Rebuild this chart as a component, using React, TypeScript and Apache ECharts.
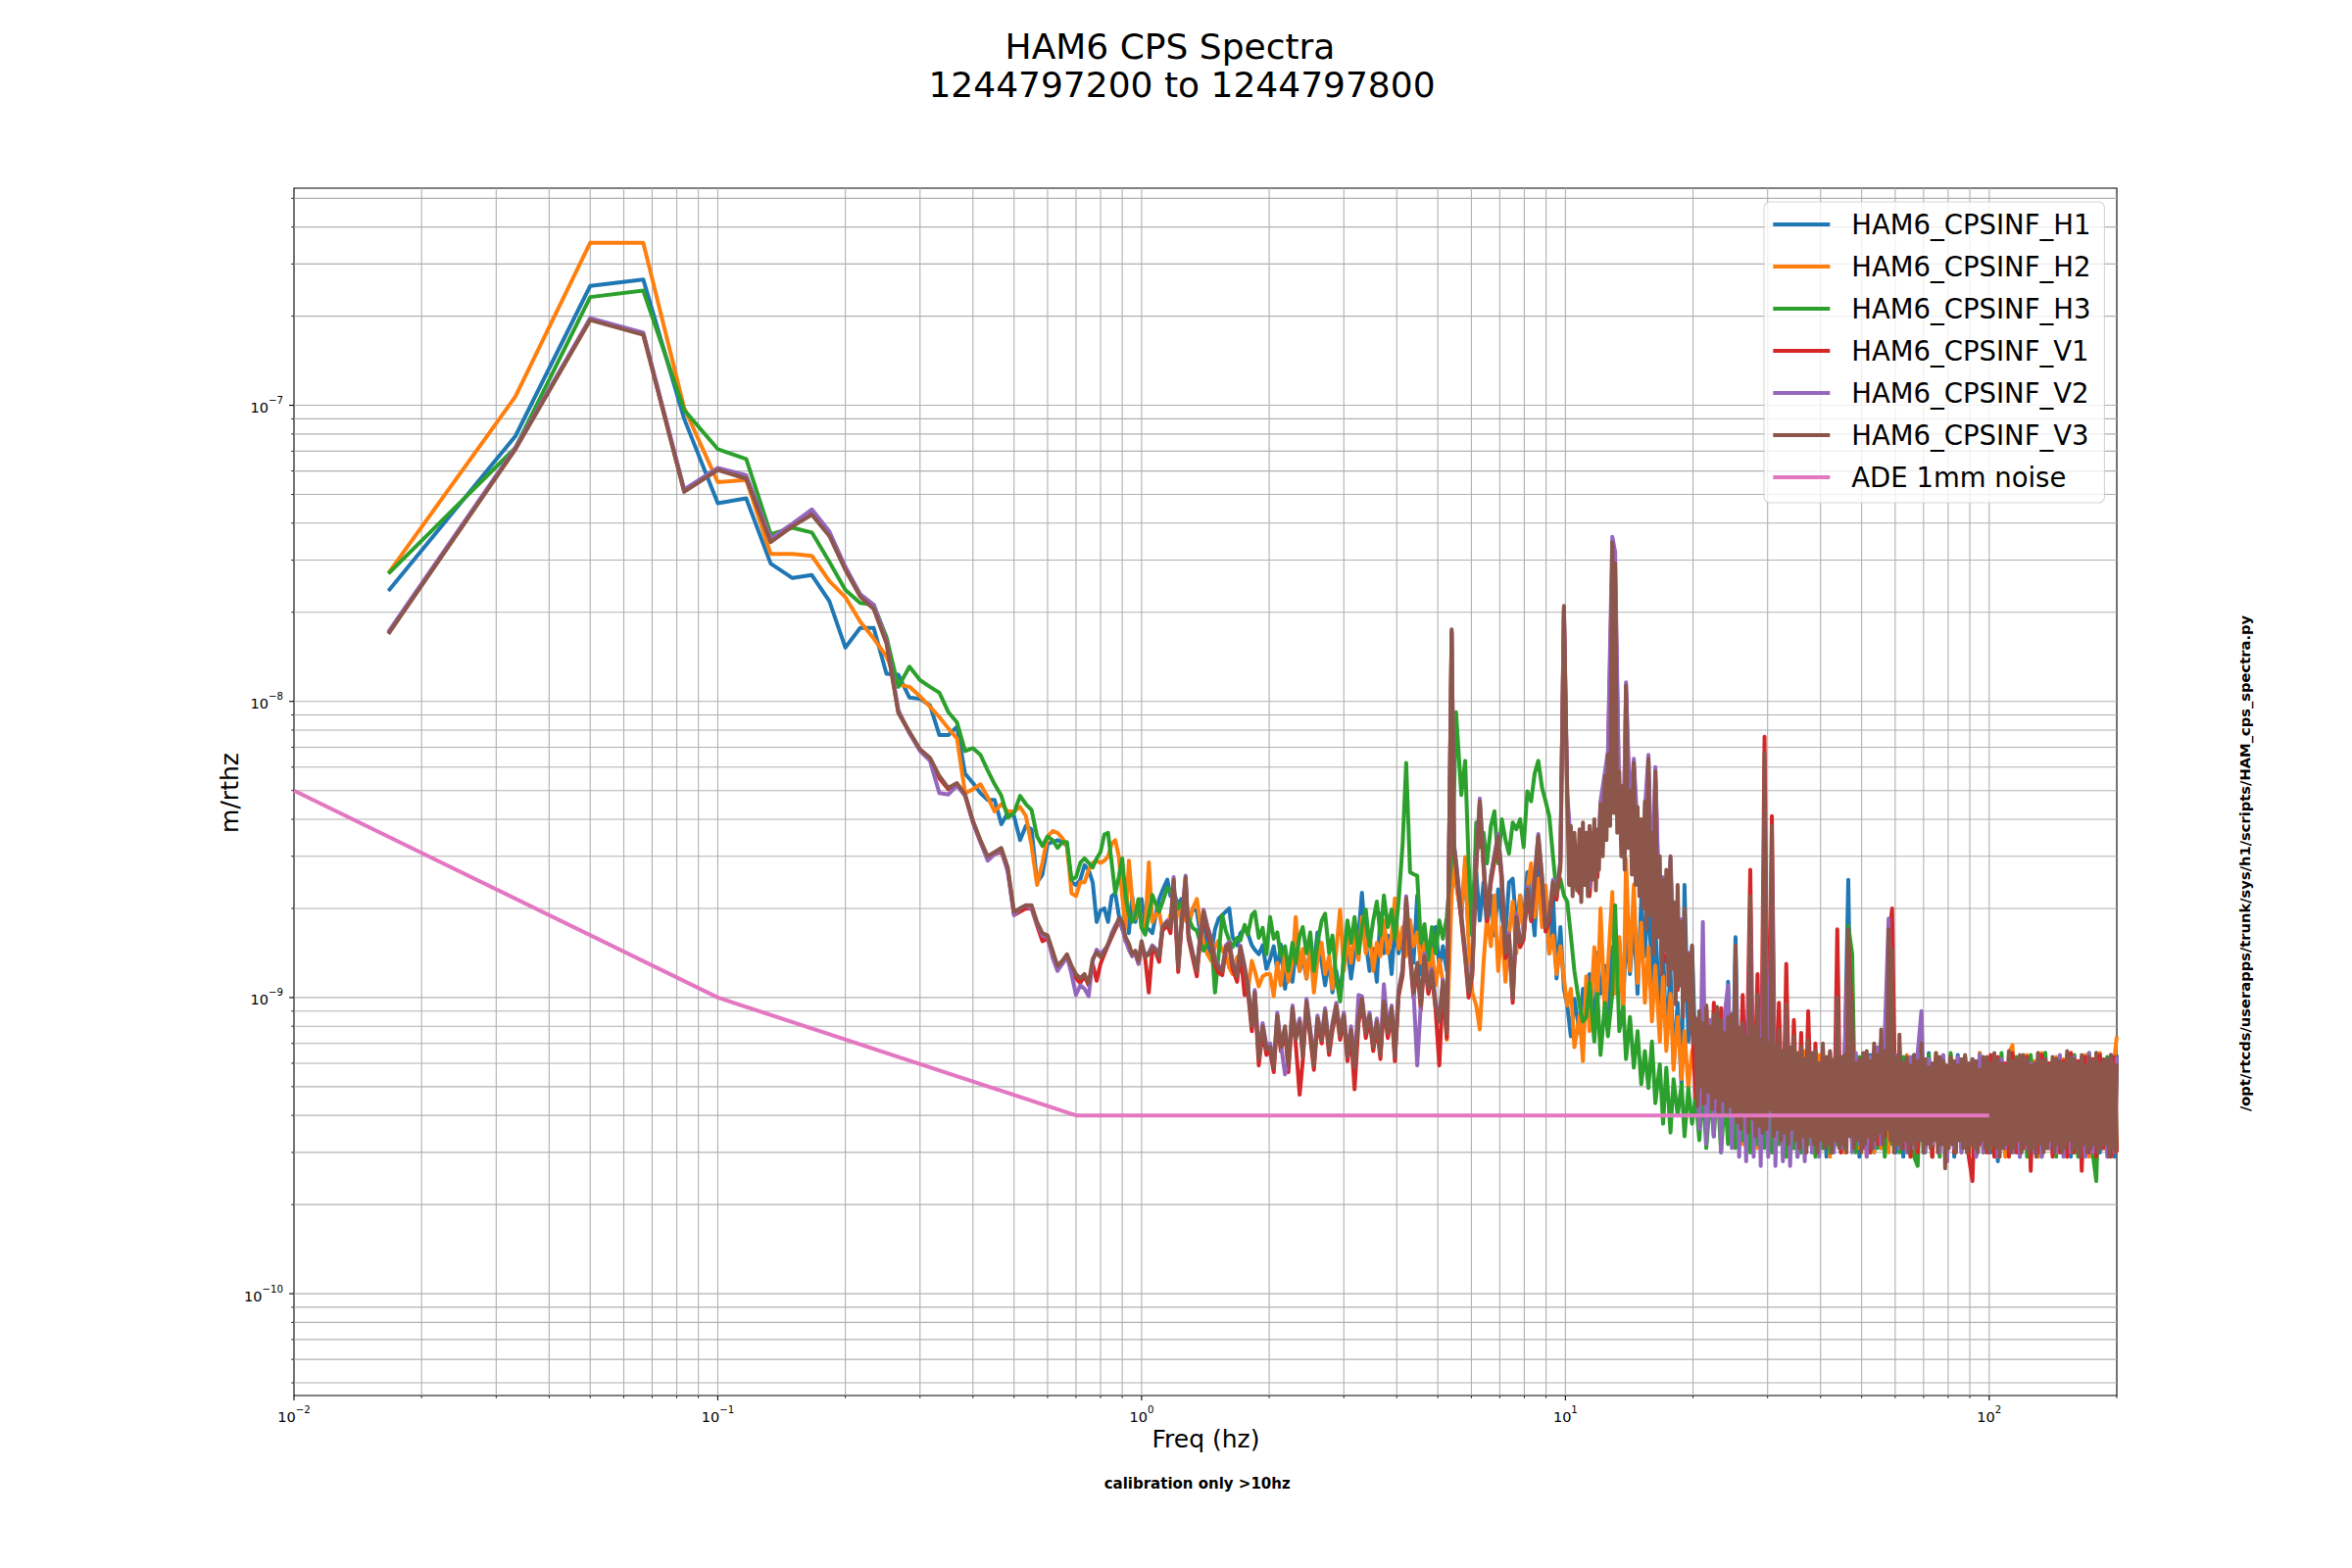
import React, { useEffect, useRef } from 'react';
import * as echarts from 'echarts';

const FONT = 'DejaVu Sans';

const SERIES_NAMES = ['HAM6_CPSINF_H1', 'HAM6_CPSINF_H2', 'HAM6_CPSINF_H3', 'HAM6_CPSINF_V1', 'HAM6_CPSINF_V2', 'HAM6_CPSINF_V3', 'ADE 1mm noise'];
const COLORS = ['#1f77b4', '#ff7f0e', '#2ca02c', '#d62728', '#9467bd', '#8c564b', '#e377c2'];

// Frequencies (Hz)
const F_LOW = [0.0167, 0.0333, 0.05, 0.0667, 0.0833, 0.1, 0.1167, 0.1333, 0.15, 0.1667, 0.1833, 0.2, 0.2167, 0.2333, 0.25,
  0.2667, 0.2833, 0.3, 0.3167, 0.3333, 0.35, 0.3667, 0.3833, 0.4, 0.4167, 0.4333, 0.45, 0.4667, 0.4833, 0.5,
  0.5167, 0.5333, 0.55, 0.5667, 0.5833, 0.6, 0.6167, 0.6333, 0.65, 0.6667, 0.6833, 0.7, 0.7167, 0.7333, 0.75,
  0.7667, 0.7833, 0.8, 0.8167, 0.8333, 0.85, 0.8667, 0.8833, 0.9, 0.9167, 0.9333, 0.95, 0.9667, 0.9833, 1.0];
const F_MID = [1.02, 1.04, 1.06, 1.08, 1.10, 1.12, 1.15, 1.17, 1.19, 1.22,
  1.24, 1.27, 1.29, 1.32, 1.35, 1.37, 1.40, 1.43, 1.46, 1.49,
  1.52, 1.55, 1.58, 1.61, 1.64, 1.68, 1.71, 1.75, 1.78, 1.82,
  1.85, 1.89, 1.93, 1.97, 2.01, 2.05, 2.09, 2.13, 2.18, 2.22,
  2.27, 2.31, 2.36, 2.40, 2.45, 2.50, 2.55, 2.60, 2.66, 2.71,
  2.77, 2.82, 2.88, 2.94, 3.00, 3.06, 3.12, 3.18, 3.25, 3.31,
  3.38, 3.45, 3.52, 3.59, 3.66, 3.73, 3.81, 3.89, 3.96, 4.04,
  4.13, 4.21, 4.30, 4.38, 4.47, 4.56, 4.65, 4.75, 4.84, 4.94,
  5.04, 5.14, 5.25, 5.39, 5.46, 5.52, 5.68, 5.80, 5.91, 6.03,
  6.16, 6.28, 6.41, 6.53, 6.67, 6.80, 6.94, 7.08, 7.22, 7.36,
  7.51, 7.66, 7.82, 7.97, 8.13, 8.30, 8.46, 8.63, 8.81, 8.98,
  9.16, 9.35, 9.53, 9.73, 9.92, 10.1, 10.3, 10.5, 10.8, 11.0,
  11.2, 11.4, 11.7, 11.9, 12.1, 12.4, 12.6, 12.9, 13.1, 13.4,
  13.7, 13.9, 14.2, 14.5, 14.8, 15.1, 15.4, 15.7, 16.0, 16.3,
  16.7, 17.0, 17.3, 17.7, 18.0, 18.4, 18.8, 19.1, 19.5, 19.9];
// Extra frequencies after F_MID entries 115..149 (dense V3 trace)
const MID_B_START = 115;
const F_MID_B = [10.2, 10.4, 10.65, 10.9, 11.1, 11.3, 11.55, 11.8, 12.0, 12.25,
  12.5, 12.75, 13.0, 13.25, 13.55, 13.8, 14.05, 14.35, 14.65, 14.95,
  15.25, 15.55, 15.85, 16.15, 16.5, 16.85, 17.15, 17.5, 17.85, 18.2,
  18.6, 18.95, 19.3, 19.7, 20.1];
const F_HIGH = [20.3, 20.7, 21.1, 21.5, 22.0, 22.4, 22.8, 23.3, 23.8, 24.2,
  24.7, 25.2, 25.7, 26.2, 26.7, 27.3, 27.8, 28.4, 28.9, 29.5,
  30.1, 30.7, 31.3, 31.9, 32.6, 33.2, 33.9, 34.6, 35.3, 36.0,
  36.7, 37.4, 38.2, 38.9, 39.7, 40.5, 41.3, 42.1, 43.0, 43.8,
  44.7, 45.6, 46.5, 47.5, 48.4, 49.4, 50.4, 51.4, 52.4, 53.5,
  54.5, 55.6, 56.7, 57.9, 59.0, 60.2, 61.4, 62.7, 63.9, 65.2,
  66.5, 67.8, 69.2, 70.6, 72.0, 73.4, 74.9, 76.4, 77.9, 79.5,
  81.1, 82.7, 84.3, 86.0, 87.7, 89.5, 91.3, 93.1, 95.0, 96.9,
  98.8, 100.8, 102.8, 104.8, 106.9, 109.1, 111.3, 113.5, 115.8, 118.1,
  120.4, 122.8, 125.3, 127.8, 130.4, 133.0, 135.6, 138.3, 141.1, 143.9,
  146.8, 149.7, 152.7, 155.8, 158.9, 162.1, 165.3, 168.6, 172.0, 175.4,
  178.9, 182.5, 186.2, 189.9, 193.7, 197.6, 200];
// Extra frequencies between F_HIGH entries (dense V3 trace)
const F_HIGH_B = [20.5, 20.9, 21.3, 21.75, 22.2, 22.6, 23.05, 23.55, 24.0, 24.45,
  24.95, 25.45, 25.95, 26.45, 27.0, 27.55, 28.1, 28.65, 29.2, 29.8,
  30.4, 31.0, 31.6, 32.25, 32.9, 33.55, 34.25, 34.95, 35.65, 36.35,
  37.05, 37.8, 38.55, 39.3, 40.1, 40.9, 41.7, 42.55, 43.4, 44.25,
  45.15, 46.05, 47.0, 47.95, 48.9, 49.9, 50.9, 51.9, 52.95, 54.0,
  55.05, 56.15, 57.3, 58.45, 59.6, 60.8, 62.05, 63.3, 64.55, 65.85,
  67.15, 68.5, 69.9, 71.3, 72.7, 74.15, 75.65, 77.15, 78.7, 80.3,
  81.9, 83.5, 85.15, 86.85, 88.6, 90.4, 92.2, 94.05, 95.95, 97.85,
  99.8, 101.8, 103.8, 105.85, 108.0, 110.2, 112.4, 114.65, 116.95, 119.25,
  121.6, 124.05, 126.55, 129.1, 131.7, 134.3, 136.95, 139.7, 142.5, 145.35,
  148.25, 151.2, 154.25, 157.35, 160.5, 163.7, 166.95, 170.3, 173.7, 177.15,
  180.7, 184.35, 188.05, 191.8, 195.65, 198.8];

// Amplitudes below 1 Hz, m/rthz
const H1_LOW = [2.36e-8, 7.87e-8, 2.53e-7, 2.66e-7, 9.0e-8, 4.67e-8, 4.85e-8, 2.92e-8, 2.61e-8, 2.67e-8, 2.18e-8, 1.52e-8, 1.77e-8, 1.77e-8, 1.24e-8,
  1.23e-8, 1.03e-8, 1.02e-8, 9.7e-9, 7.7e-9, 7.7e-9, 8.2e-9, 5.7e-9, 5.3e-9, 4.9e-9, 4.65e-9, 4.65e-9, 3.85e-9, 4.2e-9, 4.1e-9,
  3.4e-9, 3.8e-9, 3.7e-9, 2.45e-9, 2.6e-9, 3.3e-9, 3.35e-9, 3.4e-9, 3.35e-9, 3.25e-9, 2.45e-9, 2.4e-9, 2.5e-9, 2.8e-9, 2.7e-9,
  2.45e-9, 1.8e-9, 1.97e-9, 2.0e-9, 1.8e-9, 2.2e-9, 2.25e-9, 1.9e-9, 1.7e-9, 2.1e-9, 1.65e-9, 2.2e-9, 1.8e-9, 2.0e-9, 2.15e-9];
const H2_LOW = [2.71e-8, 1.07e-7, 3.54e-7, 3.54e-7, 9.8e-8, 5.5e-8, 5.6e-8, 3.15e-8, 3.15e-8, 3.1e-8, 2.55e-8, 2.25e-8, 1.86e-8, 1.63e-8, 1.42e-8,
  1.14e-8, 1.12e-8, 1.04e-8, 9.6e-9, 8.85e-9, 8.1e-9, 7.5e-9, 4.9e-9, 5.05e-9, 5.25e-9, 4.75e-9, 4.25e-9, 4.5e-9, 4.25e-9, 4.25e-9,
  4.4e-9, 4.1e-9, 3.25e-9, 2.4e-9, 2.85e-9, 3.5e-9, 3.65e-9, 3.6e-9, 3.45e-9, 3.25e-9, 2.25e-9, 2.2e-9, 2.45e-9, 2.45e-9, 2.7e-9,
  2.85e-9, 2.9e-9, 2.85e-9, 2.9e-9, 3.0e-9, 3.3e-9, 3.4e-9, 3.0e-9, 2.2e-9, 1.72e-9, 2.9e-9, 2.15e-9, 1.85e-9, 2.15e-9, 1.72e-9];
const H3_LOW = [2.70e-8, 7.19e-8, 2.32e-7, 2.44e-7, 9.64e-8, 7.11e-8, 6.59e-8, 3.67e-8, 3.86e-8, 3.72e-8, 2.96e-8, 2.38e-8, 2.15e-8, 2.12e-8, 1.65e-8,
  1.12e-8, 1.31e-8, 1.18e-8, 1.12e-8, 1.07e-8, 9.2e-9, 8.5e-9, 6.8e-9, 6.95e-9, 6.6e-9, 5.85e-9, 5.25e-9, 4.8e-9, 4.05e-9, 4.2e-9,
  4.8e-9, 4.5e-9, 4.3e-9, 3.5e-9, 3.25e-9, 3.5e-9, 3.4e-9, 3.2e-9, 3.35e-9, 3.35e-9, 2.5e-9, 2.55e-9, 2.85e-9, 2.95e-9, 2.85e-9,
  2.75e-9, 2.95e-9, 3.1e-9, 3.55e-9, 3.6e-9, 2.85e-9, 2.25e-9, 2.55e-9, 2.95e-9, 2.2e-9, 1.9e-9, 1.8e-9, 1.9e-9, 2.15e-9, 1.72e-9];
const V1_LOW = [1.7e-8, 7.15e-8, 1.95e-7, 1.74e-7, 5.15e-8, 6.1e-8, 5.7e-8, 3.5e-8, 3.95e-8, 4.35e-8, 3.7e-8, 2.82e-8, 2.3e-8, 2.1e-8, 1.6e-8,
  9.2e-9, 7.85e-9, 6.85e-9, 6.4e-9, 5.5e-9, 5.05e-9, 5.25e-9, 4.8e-9, 3.9e-9, 3.35e-9, 2.95e-9, 3.05e-9, 3.1e-9, 2.7e-9, 1.9e-9,
  1.95e-9, 2.0e-9, 2.0e-9, 1.75e-9, 1.55e-9, 1.58e-9, 1.4e-9, 1.25e-9, 1.3e-9, 1.38e-9, 1.24e-9, 1.16e-9, 1.12e-9, 1.18e-9, 1.1e-9,
  1.3e-9, 1.14e-9, 1.3e-9, 1.4e-9, 1.5e-9, 1.6e-9, 1.7e-9, 1.8e-9, 1.75e-9, 1.55e-9, 1.5e-9, 1.38e-9, 1.4e-9, 1.3e-9, 1.5e-9];
const V2_LOW = [1.72e-8, 7.2e-8, 1.97e-7, 1.76e-7, 5.2e-8, 6.15e-8, 5.8e-8, 3.55e-8, 3.98e-8, 4.45e-8, 3.75e-8, 2.85e-8, 2.3e-8, 2.12e-8, 1.6e-8,
  9.35e-9, 7.8e-9, 6.8e-9, 6.3e-9, 4.9e-9, 4.85e-9, 5.2e-9, 4.8e-9, 3.9e-9, 3.35e-9, 2.9e-9, 3.05e-9, 3.15e-9, 2.65e-9, 1.9e-9,
  2.0e-9, 2.05e-9, 2.0e-9, 1.78e-9, 1.62e-9, 1.6e-9, 1.36e-9, 1.23e-9, 1.3e-9, 1.38e-9, 1.2e-9, 1.02e-9, 1.1e-9, 1.07e-9, 1.01e-9,
  1.33e-9, 1.45e-9, 1.4e-9, 1.45e-9, 1.5e-9, 1.65e-9, 1.75e-9, 1.82e-9, 1.72e-9, 1.55e-9, 1.45e-9, 1.38e-9, 1.42e-9, 1.3e-9, 1.5e-9];
const V3_LOW = [1.69e-8, 7.1e-8, 1.94e-7, 1.73e-7, 5.1e-8, 6.05e-8, 5.65e-8, 3.45e-8, 3.9e-8, 4.27e-8, 3.62e-8, 2.78e-8, 2.26e-8, 2.05e-8, 1.57e-8,
  9.15e-9, 7.9e-9, 6.9e-9, 6.45e-9, 5.6e-9, 5.1e-9, 5.3e-9, 4.85e-9, 3.95e-9, 3.4e-9, 3.0e-9, 3.1e-9, 3.2e-9, 2.75e-9, 1.95e-9,
  2.0e-9, 2.05e-9, 2.05e-9, 1.8e-9, 1.65e-9, 1.62e-9, 1.44e-9, 1.28e-9, 1.33e-9, 1.4e-9, 1.28e-9, 1.2e-9, 1.16e-9, 1.2e-9, 1.12e-9,
  1.35e-9, 1.42e-9, 1.37e-9, 1.42e-9, 1.52e-9, 1.62e-9, 1.72e-9, 1.85e-9, 1.8e-9, 1.6e-9, 1.52e-9, 1.4e-9, 1.44e-9, 1.33e-9, 1.55e-9];

// Amplitudes 1-20 Hz and 20-200 Hz, in units of 1e-10 m/rthz
const UNIT = 1e-10;
const H1_MID = [17.2, 17, 16.5, 19, 21.5, 23, 25, 22, 22.5, 20.5, 21.5, 18.5, 17.5, 20, 19.5, 17, 18, 15, 14, 17,
  18.5, 19, 19.5, 20, 16, 15, 16.5, 17, 16.5, 15, 14.5, 14, 15, 12.5,
  13.5, 14.9, 12.3, 15.1, 10.7, 13.1, 11.3, 14.6, 12.3, 13.8, 11.6, 14.9, 12.7, 16.6, 13.1, 11.0, 13.4, 10.4, 12.3, 10.1,
  13.1, 14.6, 11.6, 14.1, 16.2, 22.6, 15.3, 12.3, 14.6, 11.3, 19.2, 14.1, 16.2, 12.0, 17.3, 14.1, 16.6, 15.3, 18.2, 13.1,
  22.1, 12.0, 16.2, 11.3, 15.3, 17.3, 12.7, 14.9, 12.3, 26, 29.8, 24.5, 18.7, 28.4, 16.2, 22.1, 26.5, 18.2, 24.5, 17.3,
  22.1, 16.2, 23.2, 18.7, 16.2, 24.5, 25.2, 17.3, 22.1, 17.7, 26.5, 21.1, 16.2, 28.4, 18.7, 23.2, 14.1, 22.1, 11.6, 17.3,
  10.7, 9.4, 7.4, 9.9, 7.6, 10.7,
  9.6, 12, 7.7, 14.2, 10.3, 12.8, 8.6, 14.8, 11.2, 15.5, 9.6, 17, 12, 18.3, 10.3, 21.5, 13.8, 23.3, 11.2, 17.8,
  8.6, 14.8, 7.1, 12.3, 5.95, 9.6, 4.95, 24, 7.1, 14.8];
const H2_MID = [17.2, 28.6, 18, 19, 19.5, 16.8, 17.6, 19, 21, 20.5, 18, 18.6, 17.6, 20, 21.5, 18.6, 15.2, 14, 13.3, 14.8,
  15.6, 14.4, 14, 12.6, 12, 13.7, 12.3, 12, 10.4, 13.3, 12.3, 10.9, 11.8, 12,
  12.0, 10.1, 13.1, 11.0, 14.1, 11.3, 13.1, 18.7, 12.3, 14.6, 11.6, 14.6, 10.4, 13.4, 15.3, 12.0, 13.8, 10.7, 14.6, 19.8,
  12.3, 15.8, 13.1, 16.6, 13.4, 18.7, 14.1, 16.6, 12.3, 15.3, 13.8, 18.2, 14.1, 16.2, 21.6, 14.6, 17.3, 13.8, 18.2, 14.9,
  16.6, 13.1, 15.3, 12.0, 14.6, 11.0, 13.4, 11.3, 7.2, 22.1, 28.4, 24.5, 18.7, 29.8, 15.3, 10.4, 9.4, 7.8, 13.1, 18.7,
  14.9, 22.1, 12.3, 17.3, 11.3, 16.2, 21.1, 14.1, 22.1, 16.2, 23.2, 28.4, 18.7, 25.2, 17.3, 23.9, 14.1, 16.2, 12.0, 14.9,
  11.6, 9.4, 10.7, 6.8, 8.7, 6.1,
  11.8, 7.7, 14.8, 9.6, 20, 8.6, 12.8, 22.7, 10.3, 16, 8.6, 29.3, 12.3, 24.1, 11.2, 17.9, 9.6, 14.8, 8.3, 12.8,
  7.1, 11.8, 6.6, 10.3, 5.7, 8.6, 5.3, 7.7, 4.95, 6.6];
const H3_MID = [16.3, 19, 22.2, 20.7, 19.5, 21, 23.5, 22.7, 23.1, 20, 20.7, 19, 18.6, 17.2, 16.8, 15.6, 14.4, 15.2, 15.6, 10.4,
  14, 19, 16.8, 15.6, 14.8, 15.9, 15.6, 17.6, 16.3, 19, 19.5, 15.9, 17.2, 14,
  18.7, 15.8, 16.6, 13.8, 14.9, 12.3, 15.3, 13.1, 16.2, 17.3, 14.1, 16.6, 12.3, 15.3, 18.2, 19.2, 14.1, 16.2, 11.6, 9.7,
  13.8, 18.2, 15.3, 18.7, 14.1, 17.3, 19.8, 14.9, 18.2, 21.1, 16.2, 22.1, 17.3, 19.8, 15.8, 21.1, 33.1, 62, 26.5, 26.1,
  25.8, 15.3, 17.7, 13.4, 17.3, 14.1, 18.2, 15.8, 18.7, 29.8, 48.3, 92, 48.3, 63, 28.4, 16.2, 39, 32.2, 36, 28.4,
  38, 42.6, 28.4, 40, 34.1, 30.6, 39, 37, 40, 32.2, 49.7, 46, 57, 63, 51, 46, 41, 29.8, 22.6, 25.2,
  22.1, 21.1, 16.2, 12.3, 9.4, 8.3,
  8.6, 11.2, 7.1, 10.3, 6.4, 9.6, 7.4, 10.3, 20.5, 7.7, 9.3, 6.2, 8.6, 5.8, 7.7, 5.1, 6.6, 4.95, 7.1, 4.4,
  5.95, 3.75, 5.8, 3.5, 5.3, 4.0, 5.1, 3.4, 4.95, 3.75];
const V1_MID = [13.5, 10.4, 14.5, 14.2, 13.2, 16.8, 17.6, 16.5, 24, 12.2, 16.8, 24.6, 15.8, 13.6, 11.8, 14.8, 19, 16.6, 15, 12.8,
  12.1, 11.9, 14.4, 14.8, 12.5, 11.3, 14.2, 10.2, 10.6, 7.7, 10, 5.9, 7.7, 6.4,
  6.6, 5.6, 8.4, 6.6, 7.7, 5.6, 8.9, 7.0, 4.7, 6.1, 9.4, 7.3, 5.7, 8.2, 7.0, 8.7, 6.4, 7.7, 9.1, 7.2,
  8.4, 6.1, 7.5, 4.9, 8.2, 9.6, 7.3, 8.4, 6.6, 8.0, 6.2, 9.4, 7.3, 8.9, 6.1, 10.1, 11.9, 21, 13.6, 10.0,
  12.7, 9.1, 13.3, 10.3, 11.9, 9.1, 5.9, 10.9, 7.3, 170, 31, 27.5, 18.1, 13.6, 10.0, 11.9, 27.5, 44.5, 27.5, 18.1,
  24.4, 28.8, 33.8, 24.4, 13.6, 15.7, 9.6, 18.1, 14.8, 15.7, 22.5, 18.1, 24.4, 33.8, 24.4, 16.7, 18.1, 23.7, 21.4, 27.5,
  203, 46.7, 31.1, 26.2, 22.5, 30.4,
  32, 22, 34, 25.5, 43, 54, 62, 300, 270, 43, 30.5, 108, 40, 60, 35, 22, 40, 61, 20.5, 55,
  16.5, 24, 13.2, 27.5, 14.2, 10.6, 17.2, 9.8, 13.2, 8.2];
const V2_MID = [13.9, 14.2, 15, 14.6, 13.9, 17.4, 18.2, 17.4, 25.5, 12.8, 17.4, 25.8, 16.5, 14.2, 12.5, 15.4, 19.8, 17.4, 15.8, 13.5,
  12.8, 12.5, 15, 15.4, 13.2, 12, 15, 12.8, 11.2, 8.2, 10.6, 6.4, 8.2, 6.9,
  7.0, 6.0, 8.9, 7.0, 5.5, 6.1, 9.4, 7.4, 8.5, 6.5, 9.9, 7.8, 6.1, 8.7, 7.4, 9.2, 6.8, 8.2, 9.6, 7.6,
  8.9, 6.5, 8.0, 6.0, 10.2, 10.1, 7.8, 8.9, 7.0, 8.5, 6.6, 11.1, 7.8, 9.4, 6.5, 10.6, 12.5, 22, 14.4, 10.6,
  5.9, 9.6, 14.1, 10.9, 12.5, 9.6, 8.5, 11.5, 7.8, 172, 33, 29, 19.1, 14.4, 10.6, 12.5, 29, 47, 29, 19.1,
  25.7, 30.4, 35.7, 25.7, 14.4, 16.5, 10.1, 19.1, 15.6, 16.5, 23.7, 19.1, 25.7, 35.7, 25.7, 17.6, 19.1, 25, 22.5, 29,
  205, 49.3, 32.8, 27.6, 23.7, 32,
  34, 23.5, 36, 27, 46, 58, 68, 360, 320, 46, 32, 116, 43, 64, 37, 23.5, 43, 66, 22, 60,
  17.5, 25.5, 14.2, 29.5, 15.2, 11.5, 18.4, 10.6, 14.2, 8.8];
const V3_MID = [13.7, 14, 14.8, 14.4, 13.7, 17.2, 18, 17.2, 25, 12.6, 17.2, 25.4, 16.3, 14, 12.3, 15.2, 19.5, 17.2, 15.6, 13.3,
  12.6, 12.3, 14.8, 15.2, 13, 11.8, 14.8, 12.6, 11, 8, 10.4, 6.2, 8, 6.7,
  6.8, 5.8, 8.7, 6.8, 8.0, 5.9, 9.2, 7.2, 8.3, 6.3, 9.7, 7.6, 5.9, 8.5, 7.2, 9.0, 6.6, 8.0, 9.4, 7.4,
  8.7, 6.3, 7.8, 5.8, 8.5, 9.9, 7.6, 8.7, 6.8, 8.3, 6.4, 9.7, 7.6, 9.2, 6.3, 10.4, 12.3, 21.6, 14.1, 10.4,
  13.1, 9.4, 13.8, 10.7, 12.3, 9.4, 8.3, 11.3, 7.6, 175, 32.2, 28.4, 18.7, 14.1, 10.4, 12.3, 28.4, 46, 28.4, 18.7,
  25.2, 29.8, 35, 25.2, 14.1, 16.2, 9.9, 18.7, 15.3, 16.2, 23.2, 18.7, 25.2, 35, 25.2, 17.3, 18.7, 24.5, 22.1, 28.4,
  210, 48, 38, 36, 37, 39,
  36, 38, 40, 37, 45, 56, 66, 344, 292, 58, 52, 113, 50, 62, 44, 40, 46, 64, 36, 58,
  30, 25, 27, 30, 21, 24, 18, 20, 14, 15];
// V3 lower excursions at F_MID_B (10-20 Hz)
const V3_MID_B = [24, 22, 23, 21, 24, 22, 25, 23, 27, 30,
  34, 38, 42, 36, 30, 27, 32, 26, 24, 22,
  20, 17, 19, 14, 16, 12, 14.5, 11, 12.5, 9.5,
  11, 8.6, 9.8, 7.8, 7.0];

const H1_HIGH = [6.0, 3.8, 7.2, 4.0, 5.6, 3.6, 6.8, 3.9, 5.4, 11.3,
  3.6, 16, 3.4, 6.2, 3.2, 7.0, 3.5, 6.4, 3.1, 6.8,
  3.3, 6.0, 3.0, 6.5, 3.2, 5.8, 3.1, 6.3, 2.9, 6.0,
  3.2, 6.4, 3.0, 5.9, 3.3, 6.2, 2.9, 6.0, 3.1, 6.5,
  3.0, 6.1, 25, 3.2, 6.3, 2.9, 6.0, 3.1, 6.4, 3.0,
  6.2, 3.1, 6.5, 3.3, 6.0, 3.0, 6.3, 2.9, 6.1, 3.1,
  6.4, 3.0, 6.0, 3.2, 6.5, 2.9, 6.1, 3.0, 6.3, 3.1,
  6.0, 2.9, 6.4, 3.1, 6.2, 3.0, 6.1, 2.9, 6.5, 3.1,
  6.1, 3.0, 6.3, 2.8, 6.0, 3.1, 6.4, 3.0, 6.2, 2.9,
  6.0, 3.1, 6.3, 3.0, 6.1, 2.9, 6.5, 3.1, 6.0, 3.0,
  6.2, 3.1, 6.4, 2.9, 6.0, 3.0, 6.3, 3.1, 6.1, 2.9,
  6.5, 3.0, 6.0, 3.1, 6.2, 2.9, 6.4];
const H2_HIGH = [7.0, 3.5, 8.2, 3.9, 6.5, 3.4, 7.6, 3.7, 6.2, 3.3,
  6.8, 3.5, 6.0, 3.2, 6.6, 3.4, 6.4, 3.1, 6.2, 3.3,
  6.5, 3.0, 6.1, 3.2, 6.4, 2.9, 6.0, 3.1, 6.3, 3.0,
  6.6, 3.2, 6.1, 3.0, 6.4, 3.1, 6.2, 2.9, 6.0, 3.2,
  6.3, 3.0, 6.1, 3.2, 6.5, 3.1, 6.0, 2.9, 6.2, 3.0,
  6.4, 3.1, 6.6, 3.0, 6.2, 3.2, 6.0, 3.1, 6.4, 2.9,
  6.1, 3.0, 6.3, 3.1, 6.0, 2.9, 6.5, 3.2, 6.2, 3.0,
  6.4, 3.1, 6.0, 3.0, 6.3, 2.9, 6.1, 3.2, 6.5, 3.0,
  6.2, 3.1, 6.4, 3.0, 6.1, 2.9, 6.5, 6.9, 3.0, 6.2,
  3.1, 6.4, 3.0, 6.1, 2.9, 6.5, 3.1, 6.0, 3.0, 6.3,
  3.1, 6.2, 2.9, 6.5, 3.0, 6.1, 3.1, 6.4, 2.9, 6.2,
  3.0, 6.5, 3.1, 6.0, 3.0, 6.3, 7.4];
const H3_HIGH = [4.6, 3.3, 5.0, 3.1, 4.8, 3.4, 5.2, 3.0, 4.7, 3.2,
  5.4, 3.1, 4.9, 3.3, 5.6, 3.0, 5.1, 3.2, 5.5, 3.1,
  5.3, 3.0, 5.8, 3.2, 5.2, 2.9, 5.7, 3.1, 5.4, 3.0,
  5.9, 3.2, 5.6, 2.9, 6.0, 3.1, 5.8, 3.0, 6.2, 3.2,
  6.0, 3.1, 17.5, 14, 3.0, 6.3, 3.2, 6.1, 3.0, 6.4,
  3.1, 6.2, 2.9, 6.5, 3.2, 6.0, 3.0, 6.3, 3.1, 6.1,
  2.9, 2.7, 6.2, 3.0, 6.4, 3.2, 6.0, 2.9, 6.3, 3.1,
  6.5, 3.0, 6.1, 3.2, 6.3, 2.9, 6.0, 3.1, 6.4, 3.0,
  6.2, 3.1, 6.0, 2.9, 6.5, 3.2, 6.1, 3.0, 6.3, 3.1,
  6.0, 2.9, 6.4, 3.1, 6.2, 3.0, 6.5, 3.2, 6.1, 2.9,
  6.3, 3.1, 6.0, 3.0, 6.4, 2.9, 6.2, 3.1, 6.5, 3.0,
  2.4, 6.1, 3.2, 6.3, 3.0, 6.2, 3.1];
const V1_HIGH = [4.6, 8.8, 4.4, 9.4, 4.8, 9.6, 4.2, 9.2, 4.5, 9.8,
  4.3, 9.0, 4.1, 10.2, 4.4, 27, 3.9, 12, 3.7, 76,
  4.0, 41, 3.5, 9.6, 3.4, 13, 3.3, 8.4, 3.5, 7.6,
  3.2, 9.0, 3.3, 7.0, 3.1, 6.8, 3.4, 6.5, 3.2, 17,
  3.0, 6.3, 16, 8.0, 3.3, 6.0, 3.1, 6.4, 3.0, 6.6,
  3.2, 7.2, 3.4, 15, 20, 3.3, 7.0, 3.1, 6.1, 2.9,
  6.2, 3.0, 6.6, 3.1, 6.0, 2.9, 6.3, 3.2, 5.9, 2.8,
  6.2, 3.0, 5.8, 3.1, 6.3, 2.9, 2.4, 6.0, 3.2, 6.1,
  3.0, 6.4, 2.9, 6.3, 3.1, 6.0, 2.9, 6.5, 3.0, 6.1,
  3.1, 6.3, 2.6, 5.9, 3.0, 6.4, 3.1, 6.0, 2.9, 6.2,
  3.0, 6.1, 2.9, 6.5, 3.0, 6.1, 2.6, 6.3, 3.0, 6.2,
  2.9, 6.4, 3.1, 6.0, 2.9, 6.3, 3.0];
const V2_HIGH = [8.0, 3.6, 18, 3.2, 8.4, 3.4, 8.8, 3.0, 9.0, 11,
  3.1, 13, 2.9, 8.0, 2.8, 20, 2.9, 9.0, 2.7, 40,
  2.9, 30, 2.7, 7.0, 2.8, 9.0, 2.7, 6.8, 2.9, 6.4,
  2.8, 6.2, 3.0, 6.6, 2.9, 6.3, 3.2, 6.0, 3.0, 9.5,
  3.1, 6.2, 14, 3.0, 6.5, 3.2, 6.1, 2.9, 6.3, 3.1,
  6.8, 3.2, 7.5, 18.5, 3.4, 6.4, 3.1, 6.0, 3.0, 6.3,
  3.1, 6.5, 9.0, 3.0, 6.2, 3.2, 5.9, 3.0, 6.4, 2.8,
  6.1, 3.1, 6.3, 3.0, 5.9, 3.2, 6.2, 2.9, 6.4, 3.0,
  6.0, 3.2, 6.3, 2.9, 6.2, 3.1, 6.4, 3.0, 6.1, 2.9,
  6.3, 3.1, 6.0, 3.0, 6.5, 2.9, 6.2, 3.1, 6.0, 3.0,
  6.4, 2.9, 6.1, 3.0, 6.3, 3.1, 6.0, 2.9, 6.5, 3.0,
  6.2, 3.1, 6.0, 2.9, 6.4, 3.0, 6.3];
// V3 above 20 Hz: upper excursions at F_HIGH, lower excursions at F_HIGH_B
const V3_HIGH = [8.5, 9.0, 8.2, 9.3, 8.0, 8.8, 9.3, 8.4, 7.6, 8.6,
  8.8, 15, 7.9, 8.2, 7.4, 22, 8.0, 10.2, 7.2, 67,
  7.0, 38, 6.9, 7.8, 6.6, 9.5, 6.8, 7.4, 6.5, 6.8,
  6.2, 7.2, 6.5, 6.6, 6.0, 7.0, 6.3, 6.6, 6.1, 10,
  6.3, 6.4, 17, 9.7, 6.0, 6.2, 6.5, 6.6, 6.1, 7.0,
  6.4, 7.8, 6.6, 17, 14.5, 6.3, 7.5, 6.0, 6.3, 5.9,
  6.4, 6.1, 7.0, 6.2, 5.8, 6.0, 6.5, 6.3, 6.1, 5.9,
  6.3, 6.1, 5.9, 6.2, 6.4, 6.0, 6.2, 6.1, 5.7, 6.3,
  6.3, 6.0, 6.5, 6.2, 6.0, 5.9, 6.6, 6.1, 6.2, 6.4,
  6.4, 6.2, 5.9, 6.0, 6.5, 6.1, 6.2, 5.9, 6.3, 6.2,
  6.1, 6.0, 6.6, 6.3, 6.2, 6.0, 6.4, 5.9, 6.3, 6.1,
  6.5, 6.0, 6.2, 6.2, 6.4, 5.9, 6.0];
const V3_HIGH_B = [4.3, 5.0, 4.4, 4.8, 4.2, 4.6, 4.0, 4.5, 4.1, 4.3,
  4.0, 3.8, 3.6, 4.1, 3.5, 3.9, 3.4, 3.7, 3.5, 3.6,
  4.2, 3.4, 3.6, 3.3, 3.5, 3.2, 3.6, 3.3, 3.1, 3.4,
  3.0, 3.4, 3.2, 3.0, 3.3, 3.1, 3.2, 3.0, 3.3, 3.1,
  3.2, 3.0, 3.4, 3.1, 3.3, 3.0, 3.2, 3.4, 3.1, 3.3,
  3.5, 3.2, 3.6, 3.3, 3.0, 3.2, 3.1, 3.3, 3.0, 3.2,
  3.1, 3.3, 3.0, 3.2, 3.1, 3.3, 3.0, 3.2, 2.65, 3.1,
  3.2, 3.0, 3.3, 3.1, 3.0, 3.2, 3.1, 3.0, 3.3, 3.1,
  3.0, 3.2, 3.1, 2.9, 3.1, 3.2, 3.0, 3.1, 3.3, 3.0,
  3.2, 3.0, 3.1, 2.9, 3.2, 3.0, 3.1, 3.3, 3.0, 3.2,
  3.0, 3.1, 3.3, 3.0, 3.1, 2.9, 3.2, 3.0, 3.1, 3.2,
  3.0, 3.1, 3.2, 2.9, 3.1, 3.0];

const ADE_F = [0.01, 0.1, 0.7, 100];
const ADE_V = [5e-9, 1e-9, 4e-10, 4e-10];

const X_TICKS = [0.01, 0.02, 0.03, 0.04, 0.05, 0.06, 0.07, 0.08, 0.09, 0.1, 0.2, 0.3, 0.4, 0.5, 0.6, 0.7, 0.8, 0.9,
  1, 2, 3, 4, 5, 6, 7, 8, 9, 10, 20, 30, 40, 50, 60, 70, 80, 90, 100, 200];
const Y_TICKS = [5e-11, 6e-11, 7e-11, 8e-11, 9e-11,
  1e-10, 2e-10, 3e-10, 4e-10, 5e-10, 6e-10, 7e-10, 8e-10, 9e-10,
  1e-9, 2e-9, 3e-9, 4e-9, 5e-9, 6e-9, 7e-9, 8e-9, 9e-9,
  1e-8, 2e-8, 3e-8, 4e-8, 5e-8, 6e-8, 7e-8, 8e-8, 9e-8,
  1e-7, 2e-7, 3e-7, 4e-7, 5e-7];

const X_MIN = 0.01, X_MAX = 200;
const Y_MIN = 4.53e-11, Y_MAX = 5.41e-7;
const LINE_W = 4;

function isMajor(v: number) {
  const e = Math.log10(v);
  return Math.abs(e - Math.round(e)) < 1e-6;
}

function build(low: number[], mid: number[], high: number[], midB?: number[], highB?: number[]) {
  const out: number[][] = [];
  for (let i = 0; i < Math.min(F_LOW.length, low.length); i++) out.push([F_LOW[i], low[i]]);
  for (let i = 0; i < Math.min(F_MID.length, mid.length); i++) {
    out.push([F_MID[i], mid[i] * UNIT]);
    const j = i - MID_B_START;
    if (midB && j >= 0 && j < midB.length && j < F_MID_B.length) out.push([F_MID_B[j], midB[j] * UNIT]);
  }
  for (let i = 0; i < Math.min(F_HIGH.length, high.length); i++) {
    out.push([F_HIGH[i], high[i] * UNIT]);
    if (highB && i < highB.length && i < F_HIGH_B.length) out.push([F_HIGH_B[i], highB[i] * UNIT]);
  }
  return out;
}

function powLabel(v: number) {
  const e = Math.log10(v);
  const r = Math.round(e);
  if (Math.abs(e - r) > 1e-6) return '';
  const s = r < 0 ? '\u2212' + Math.abs(r) : String(r);
  return '{b|10}{s|' + s + '}';
}

const labelRich = {
  b: { fontSize: 14.5, fontFamily: FONT, color: '#000', lineHeight: 20, verticalAlign: 'bottom' },
  s: { fontSize: 10.2, fontFamily: FONT, color: '#000', lineHeight: 10, verticalAlign: 'top' },
};

export default function App() {
  const ref = useRef<HTMLDivElement>(null);
  useEffect(() => {
    if (!ref.current) return;
    const chart = echarts.init(ref.current, null, { renderer: 'svg', width: 2400, height: 1600 });
    const seriesData = [
      build(H1_LOW, H1_MID, H1_HIGH),
      build(H2_LOW, H2_MID, H2_HIGH),
      build(H3_LOW, H3_MID, H3_HIGH),
      build(V1_LOW, V1_MID, V1_HIGH),
      build(V2_LOW, V2_MID, V2_HIGH),
      build(V3_LOW, V3_MID, V3_HIGH, V3_MID_B, V3_HIGH_B),
      ADE_F.map((f, i) => [f, ADE_V[i]]),
    ];
    const lineSeries = seriesData.map((d, i) => ({
      name: SERIES_NAMES[i],
      type: 'line',
      data: d,
      color: COLORS[i],
      showSymbol: false,
      symbol: 'none',
      silent: true,
      z: 2,
      clip: true,
      lineStyle: { width: LINE_W, color: COLORS[i], join: 'round', cap: 'butt' },
      emphasis: { disabled: true },
    }));

    const vGrid = {
      type: 'custom',
      coordinateSystem: 'cartesian2d',
      silent: true,
      z: 1,
      clip: false,
      data: X_TICKS.map((v) => [v, Y_MIN]),
      renderItem: (params: any, api: any) => {
        const v = api.value(0);
        const cs = params.coordSys;
        const x = api.coord([v, Y_MIN])[0];
        const major = isMajor(v);
        const bottom = cs.y + cs.height;
        const children: any[] = [];
        if (v > X_MIN * 1.001 && v < X_MAX * 0.999) {
          children.push({ type: 'line', shape: { x1: x, y1: cs.y, x2: x, y2: bottom }, style: { stroke: '#b0b0b0', lineWidth: 1.1 } });
        }
        children.push({ type: 'line', shape: { x1: x, y1: bottom, x2: x, y2: bottom + (major ? 4.9 : 2.8) }, style: { stroke: '#000', lineWidth: major ? 1.1 : 0.85 } });
        return { type: 'group', children };
      },
    };
    const hGrid = {
      type: 'custom',
      coordinateSystem: 'cartesian2d',
      silent: true,
      z: 1,
      clip: false,
      data: Y_TICKS.map((v) => [X_MIN, v]),
      renderItem: (params: any, api: any) => {
        const v = api.value(1);
        const cs = params.coordSys;
        const y = api.coord([X_MIN, v])[1];
        const major = isMajor(v);
        return {
          type: 'group',
          children: [
            { type: 'line', shape: { x1: cs.x, y1: y, x2: cs.x + cs.width, y2: y }, style: { stroke: '#b0b0b0', lineWidth: 1.1 } },
            { type: 'line', shape: { x1: cs.x - (major ? 4.9 : 2.8), y1: y, x2: cs.x, y2: y }, style: { stroke: '#000', lineWidth: major ? 1.1 : 0.85 } },
          ],
        };
      },
    };

    const option: any = {
      animation: false,
      backgroundColor: '#ffffff',
      textStyle: { fontFamily: FONT },
      grid: {
        left: 300, top: 192, width: 1860, height: 1232,
        show: true, borderColor: '#000', borderWidth: 1.1, backgroundColor: 'transparent',
      },
      xAxis: {
        type: 'log', logBase: 10, min: X_MIN, max: X_MAX,
        axisLine: { show: false }, axisTick: { show: false }, splitLine: { show: false }, minorTick: { show: false },
        axisLabel: { formatter: powLabel, rich: labelRich, margin: 9, color: '#000' },
      },
      yAxis: {
        type: 'log', logBase: 10, min: Y_MIN, max: Y_MAX,
        axisLine: { show: false }, axisTick: { show: false }, splitLine: { show: false }, minorTick: { show: false },
        axisLabel: { formatter: powLabel, rich: labelRich, margin: 11, color: '#000' },
      },
      legend: {
        data: SERIES_NAMES,
        orient: 'vertical',
        left: 1800, top: 206,
        padding: [7, 14, 10, 9.3],
        itemWidth: 58, itemHeight: LINE_W, itemGap: 11,
        icon: 'rect',
        selectedMode: false,
        backgroundColor: 'rgba(255,255,255,0.8)',
        borderColor: 'rgba(204,204,204,0.8)', borderWidth: 1.1, borderRadius: 6,
        textStyle: { fontSize: 27.5, fontFamily: FONT, color: '#000', lineHeight: 32, padding: [0, 0, 0, 17] },
      },
      graphic: [
        { type: 'text', x: 1194, y: 47.5, silent: true, style: { text: 'HAM6 CPS Spectra', fontSize: 36, fontFamily: FONT, fill: '#000', align: 'center', verticalAlign: 'middle' } },
        { type: 'text', x: 1206, y: 86.5, silent: true, style: { text: '1244797200 to 1244797800', fontSize: 36, fontFamily: FONT, fill: '#000', align: 'center', verticalAlign: 'middle' } },
        { type: 'text', x: 1230.5, y: 1468.7, silent: true, style: { text: 'Freq (hz)', fontSize: 25, fontFamily: FONT, fill: '#000', align: 'center', verticalAlign: 'middle' } },
        { type: 'text', x: 234.7, y: 809, rotation: Math.PI / 2, silent: true, style: { text: 'm/rthz', fontSize: 25, fontFamily: FONT, fill: '#000', align: 'center', verticalAlign: 'middle' } },
        { type: 'text', x: 1221.7, y: 1514, silent: true, style: { text: 'calibration only >10hz', fontSize: 15, fontWeight: 'bold', fontFamily: FONT, fill: '#000', align: 'center', verticalAlign: 'middle' } },
        { type: 'text', x: 2290.5, y: 881, rotation: Math.PI / 2, silent: true, style: { text: '/opt/rtcds/userapps/trunk/sys/h1/scripts/HAM_cps_spectra.py', fontSize: 14.7, fontWeight: 'bold', fontFamily: FONT, fill: '#000', align: 'center', verticalAlign: 'middle' } },
      ],
      series: [vGrid, hGrid, ...lineSeries],
    };
    chart.setOption(option);
    return () => chart.dispose();
  }, []);
  return <div ref={ref} style={{ position: 'fixed', left: 0, top: 0, width: 2400, height: 1600, background: '#fff' }} />;
}
